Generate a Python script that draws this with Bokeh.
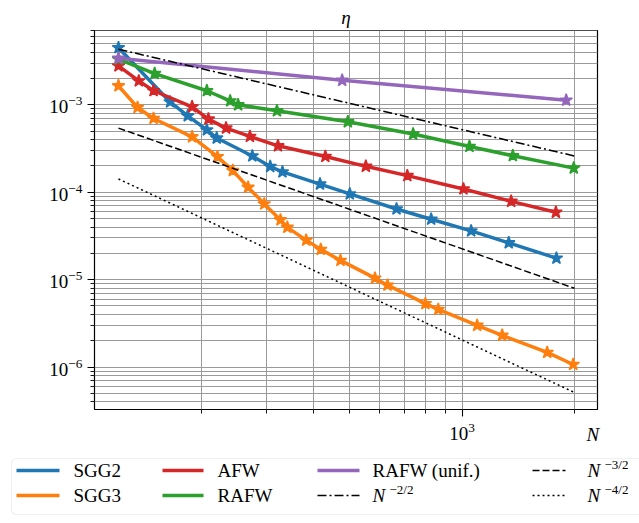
from bokeh.plotting import figure
from bokeh.models import Range1d, FixedTicker, BoxAnnotation, Title
from bokeh.core.properties import value
from bokeh.embed import file_html
from bokeh.resources import INLINE

# ---------------- data ----------------
sgg2_N = [120, 165, 184, 207, 220, 274, 306, 330, 416, 500, 667, 826, 1057, 1333, 1789]
sgg2_eta = [4.51e-3, 1.08e-3, 7.49e-4, 5.16e-4, 4.17e-4, 2.60e-4, 1.97e-4, 1.71e-4,
            1.24e-4, 9.57e-5, 6.44e-5, 4.91e-5, 3.61e-5, 2.64e-5, 1.76e-5]
sgg3_N = [120, 135, 149, 189, 221, 243, 267, 295, 326, 340, 382, 418, 472, 584, 631,
          797, 863, 1097, 1280, 1690, 1984]
sgg3_eta = [1.65e-3, 9.32e-4, 6.98e-4, 4.31e-4, 2.55e-4, 1.77e-4, 1.14e-4, 7.35e-5,
            4.83e-5, 3.97e-5, 2.83e-5, 2.22e-5, 1.66e-5, 1.04e-5, 8.65e-6, 5.31e-6,
            4.57e-6, 3.00e-6, 2.31e-6, 1.47e-6, 1.07e-6]
afw_N = [120, 136, 149, 189, 209, 233, 270, 321, 430, 552, 713, 1008, 1353, 1783]
afw_eta = [2.79e-3, 1.88e-3, 1.45e-3, 9.49e-4, 6.87e-4, 5.42e-4, 4.35e-4, 3.40e-4,
           2.57e-4, 1.98e-4, 1.55e-4, 1.09e-4, 7.87e-5, 5.90e-5]
rafw_N = [120, 150, 207, 239, 251, 319, 494, 739, 1046, 1367, 1991]
rafw_eta = [3.33e-3, 2.28e-3, 1.45e-3, 1.11e-3, 1.0e-3, 8.54e-4, 6.40e-4, 4.63e-4,
            3.34e-4, 2.62e-4, 1.89e-4]
unif_N = [120, 477, 1900]
unif_eta = [3.41e-3, 1.91e-3, 1.13e-3]

# reference slopes (end points)
ref_N = [120, 2000]
ref_m1 = [4.33e-3, 2.60e-4]     # N^{-2/2}
ref_m32 = [5.42e-4, 7.97e-6]    # N^{-3/2}
ref_m2 = [1.42e-4, 5.11e-7]     # N^{-4/2}

series_names = ["SGG2", "SGG3", "AFW", "RAFW", "RAFW (unif.)"]
ref_names = ["\u22122/2", "\u22123/2", "\u22124/2"]
x_tick_exps = [3]
y_tick_exps = [-6, -5, -4, -3]
title_text = "\u03b7"
xlabel_text = "N"

colors = ["#1f77b4", "#ff7f0e", "#d62728", "#2ca02c", "#9467bd"]
FONT = "Liberation Serif"
GRID = "#9a9a9a"

# ---------------- main figure ----------------
p = figure(width=639, height=450, x_axis_type="log", y_axis_type="log",
           x_range=Range1d(103.5, 2305), y_range=Range1d(3.27e-7, 7.09e-3),
           output_backend="svg", toolbar_location=None,
           min_border_left=94, min_border_right=42, min_border_top=30, min_border_bottom=41)
p.title = Title(text=title_text, align="center", text_font=FONT, text_font_size="19px",
                text_font_style="italic", text_color="black", standoff=6)
p.background_fill_color = "white"
p.border_fill_color = "white"
p.outline_line_color = "black"
p.outline_line_width = 1.2

x_minor = [k * 10 ** e for e in (2, 3) for k in range(2, 10) if 103.5 < k * 10 ** e < 2305]
y_minor = [k * 10.0 ** e for e in range(-7, -2) for k in range(2, 10) if 3.27e-7 < k * 10.0 ** e < 7.09e-3]
p.xaxis.ticker = FixedTicker(ticks=[10.0 ** e for e in x_tick_exps], minor_ticks=x_minor)
p.yaxis.ticker = FixedTicker(ticks=[10.0 ** e for e in y_tick_exps], minor_ticks=y_minor)
for ax in (p.xaxis[0], p.yaxis[0]):
    ax.major_label_text_font = FONT
    ax.major_label_text_font_size = "19px"
    ax.major_label_text_color = "black"
    ax.axis_line_color = None
    ax.major_tick_out = 7
    ax.major_tick_in = 0
    ax.minor_tick_out = 4
    ax.minor_tick_in = 0
    ax.major_tick_line_color = "black"
    ax.minor_tick_line_color = "black"
    ax.major_tick_line_width = 1.1
    ax.minor_tick_line_width = 0.9
p.xaxis.major_label_standoff = 6
p.yaxis.major_label_standoff = 5
xa = p.xaxis[0]
xa.axis_label = xlabel_text + "\u00a0\u00a0"
xa.axis_label_text_font = FONT
xa.axis_label_text_font_size = "19px"
xa.axis_label_text_font_style = "italic"
xa.axis_label_text_color = "black"
xa.axis_label_align = "end"
xa.axis_label_standoff = -19
for g in (p.xgrid[0], p.ygrid[0]):
    g.grid_line_color = GRID
    g.grid_line_width = 1
    g.minor_grid_line_color = GRID
    g.minor_grid_line_width = 1

data = [(sgg2_N, sgg2_eta), (sgg3_N, sgg3_eta), (afw_N, afw_eta),
        (rafw_N, rafw_eta), (unif_N, unif_eta)]
for (xs, ys), c in zip(data, colors):
    p.line(xs, ys, line_color=c, line_width=3.5)
    p.scatter(xs, ys, marker="star", size=13, fill_color=c, line_color=c, line_width=1.5)

p.line(ref_N, ref_m1, line_color="black", line_width=1.5, line_dash="9 3 2 3")
p.line(ref_N, ref_m32, line_color="black", line_width=1.5, line_dash="7 3")
p.line(ref_N, ref_m2, line_color="black", line_width=1.5, line_dash="2 3")

# ---------------- legend figure ----------------
q = figure(width=639, height=73, x_range=Range1d(0, 639), y_range=Range1d(73, 0),
           output_backend="svg", toolbar_location=None, title=None,
           x_axis_type=None, y_axis_type=None, min_border=0)
q.outline_line_color = None
q.background_fill_color = "white"
q.border_fill_color = "white"
q.add_layout(BoxAnnotation(left=11, right=645, top=8, bottom=64, fill_color=None,
                           line_color="#cccccc", line_width=1.2, border_radius=5))

row_y = [20, 45]
col_handle = [(16, 59), (162, 203), (317, 359), (532, 565)]
col_text = [73, 217, 372, 587]
slots = [(0, 0), (0, 1), (1, 0), (1, 1), (2, 0)]
for name, c, (ci, ri) in zip(series_names, colors, slots):
    h0, h1 = col_handle[ci]
    q.line([h0, h1], [row_y[ri], row_y[ri]], line_color=c, line_width=3.5)
    q.text(x=[col_text[ci]], y=[row_y[ri]], text=[name], text_font=value(FONT),
           text_font_size="19px", text_baseline="middle", text_align="left", text_color="black")

ref_slots = [(2, 1), (3, 0), (3, 1)]
ref_dash = ["9 3 2 3", "7 3", "2 3"]
for name, dash, (ci, ri) in zip(ref_names, ref_dash, ref_slots):
    h0, h1 = col_handle[ci]
    q.line([h0, h1], [row_y[ri], row_y[ri]], line_color="black", line_width=1.5, line_dash=dash)
    q.text(x=[col_text[ci]], y=[row_y[ri]], text=["N"], text_font=value(FONT),
           text_font_size="19px", text_font_style="italic", text_baseline="middle",
           text_align="left", text_color="black")
    q.text(x=[col_text[ci] + 17], y=[row_y[ri]], text=[name], text_font=value(FONT),
           text_font_size="13px", text_baseline="middle", text_align="left",
           text_color="black", y_offset=-6)

open("out.html", "w").write(file_html([p, q], INLINE))
